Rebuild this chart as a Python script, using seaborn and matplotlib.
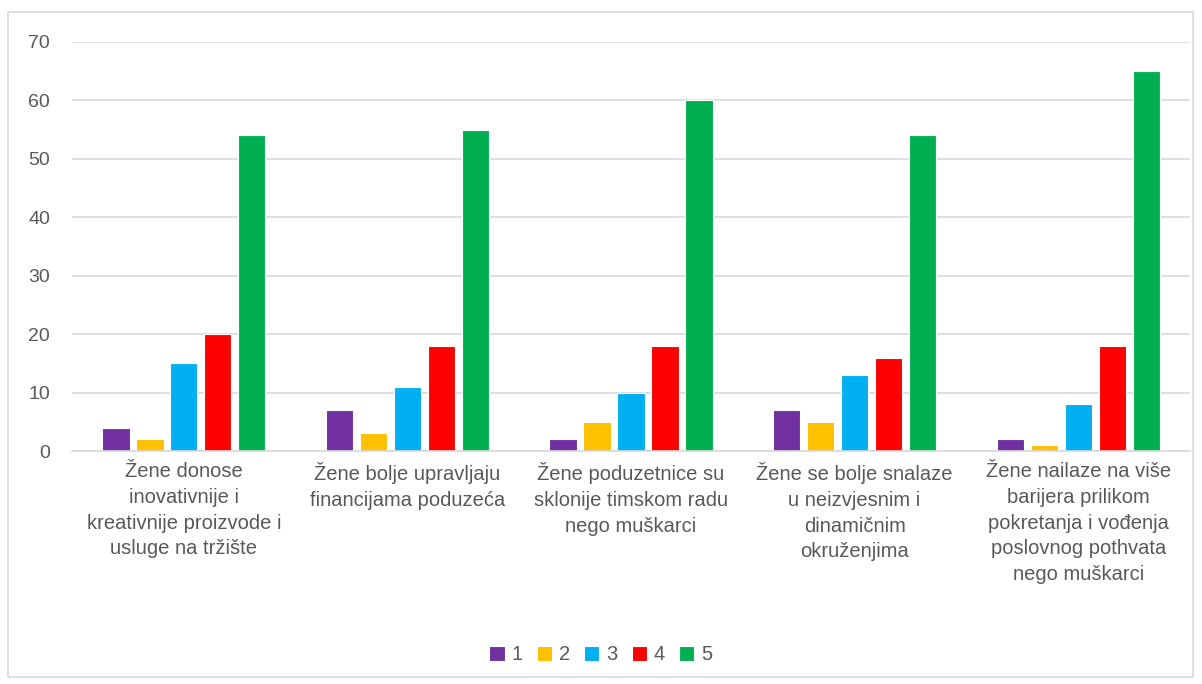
import pandas as pd
import seaborn as sns
import matplotlib.pyplot as plt
from matplotlib.patches import Rectangle

# Data
categories = [
    "Žene donose\ninovativnije i\nkreativnije proizvode i\nusluge na tržište",
    "Žene bolje upravljaju\nfinancijama poduzeća",
    "Žene poduzetnice su\nsklonije timskom radu\nnego muškarci",
    "Žene se bolje snalaze\nu neizvjesnim i\ndinamičnim\nokruženjima",
    "Žene nailaze na više\nbarijera prilikom\npokretanja i vođenja\nposlovnog pothvata\nnego muškarci",
]
grades = ["1", "2", "3", "4", "5"]
vals_1 = [4, 7, 2, 7, 2]
vals_2 = [2, 3, 5, 5, 1]
vals_3 = [15, 11, 10, 13, 8]
vals_4 = [20, 18, 18, 16, 18]
vals_5 = [54, 55, 60, 54, 65]
colors = ["#7030A0", "#FFC000", "#00B0F0", "#FF0000", "#00B050"]

rows = []
for g, vals in zip(grades, [vals_1, vals_2, vals_3, vals_4, vals_5]):
    for c, v in zip(categories, vals):
        rows.append({"kategorija": c, "ocjena": g, "broj": v})
df = pd.DataFrame(rows)

sns.set_theme(style="white")
plt.rcParams['font.family'] = ['Liberation Sans', 'DejaVu Sans']

fig = plt.figure(figsize=(12.02, 6.84), dpi=100)
ax = fig.add_axes([0.06, 0.3406, 0.93, 0.598])

sns.barplot(data=df, x="kategorija", y="broj", hue="ocjena", palette=colors,
            saturation=1, width=0.76, gap=0.2, edgecolor="white", linewidth=0.8, ax=ax)

ax.set_ylim(0, 70)
ax.set_yticks(range(0, 71, 10))
ax.yaxis.grid(True, color="#D9D9D9", linewidth=1.2)
ax.set_axisbelow(True)
for s in ["top", "right", "left"]:
    ax.spines[s].set_visible(False)
ax.spines["bottom"].set_color("#D9D9D9")
ax.spines["bottom"].set_linewidth(1.2)
ax.tick_params(axis="both", length=0, colors="#595959", pad=8)
ax.tick_params(axis="x", labelsize=14.5)
ax.tick_params(axis="y", labelsize=14, pad=16)
ax.set_xlabel("")
ax.set_ylabel("")
for lbl in ax.get_xticklabels():
    lbl.set_linespacing(1.45)
    lbl.set_verticalalignment("top")

ax.legend(loc="center", bbox_to_anchor=(0.5, 0.0425), bbox_transform=fig.transFigure,
          ncol=5, frameon=False, fontsize=14.5, handlelength=0.75, handleheight=0.75,
          handletextpad=0.35, columnspacing=0.7, labelcolor="#595959")

fig.patches.append(Rectangle((8 / 1202, 7 / 684), 1185 / 1202, 665 / 684,
                             transform=fig.transFigure, fill=False,
                             edgecolor="#D9D9D9", linewidth=1.2))

fig.savefig("out.png", dpi=100)
